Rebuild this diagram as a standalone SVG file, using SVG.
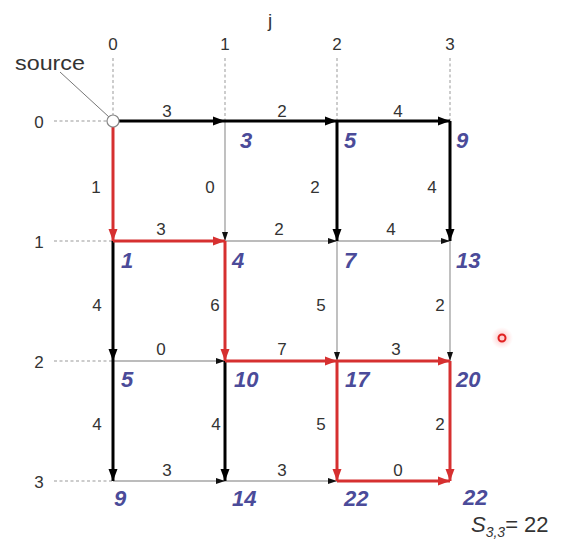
<svg xmlns="http://www.w3.org/2000/svg" width="564" height="540" viewBox="0 0 564 540">
<style>
text{font-family:"Liberation Sans",Arial,sans-serif}
.ax{font-size:17px;fill:#333;text-anchor:middle}
.w{font-size:17px;fill:#333;text-anchor:middle}
.v{font-size:22px;font-weight:bold;font-style:italic;fill:#4b4b99}
.guide{stroke:#999;stroke-width:1;stroke-dasharray:3,2.5;fill:none}
.thin{stroke:#a6a6a6;stroke-width:1.4;fill:none;marker-end:url(#ah-s)}
.blk{stroke:#000;stroke-width:3;fill:none;marker-end:url(#ah-k)}
.red{stroke:#d63030;stroke-width:3;fill:none;marker-end:url(#ah-r)}
</style>
<defs>
<marker id="ah-k" markerUnits="userSpaceOnUse" markerWidth="12" markerHeight="12" viewBox="0 0 12 12" refX="12" refY="6" orient="auto"><path d="M0,1.5 L12,6 L0,10.5 Z" fill="#000"/></marker>
<marker id="ah-r" markerUnits="userSpaceOnUse" markerWidth="12" markerHeight="12" viewBox="0 0 12 12" refX="12" refY="6" orient="auto"><path d="M0,1.5 L12,6 L0,10.5 Z" fill="#d63030"/></marker>
<marker id="ah-s" markerUnits="userSpaceOnUse" markerWidth="9" markerHeight="9" viewBox="0 0 9 9" refX="9" refY="4.5" orient="auto"><path d="M0,1.5 L9,4.5 L0,7.5 Z" fill="#111"/></marker>
<radialGradient id="glow"><stop offset="0" stop-color="#ff8080" stop-opacity="0.6"/><stop offset="1" stop-color="#ffb0b0" stop-opacity="0"/></radialGradient>
</defs>
<rect width="564" height="540" fill="#fff"/>

<g id="axes">
<text class="ax" x="270" y="27" style="font-size:19px">j</text>
<text class="ax" x="113" y="50">0</text>
<text class="ax" x="225" y="50">1</text>
<text class="ax" x="337" y="50">2</text>
<text class="ax" x="450" y="50">3</text>
<text class="ax" x="39" y="128">0</text>
<text class="ax" x="39" y="248">1</text>
<text class="ax" x="39" y="368">2</text>
<text class="ax" x="39" y="488">3</text>
<path class="guide" d="M113,58 V121 M225,58 V121 M337,58 V121 M450,58 V121 M54,121 H113 M54,241 H113 M54,361 H113 M54,481 H113"/>
<text x="15" y="70" style="font-size:21px;fill:#333" textLength="70" lengthAdjust="spacingAndGlyphs">source</text>
<line x1="60" y1="72" x2="109" y2="117" stroke="#777" stroke-width="1"/>
</g>

<g id="connectors">
<!-- thin gray -->
<line class="thin" x1="225" y1="241" x2="337" y2="241"/>
<line class="thin" x1="337" y1="241" x2="450" y2="241"/>
<line class="thin" x1="113" y1="361" x2="225" y2="361"/>
<line class="thin" x1="113" y1="481" x2="225" y2="481"/>
<line class="thin" x1="225" y1="481" x2="337" y2="481"/>
<line class="thin" x1="225" y1="121" x2="225" y2="241"/>
<line class="thin" x1="337" y1="241" x2="337" y2="361"/>
<line class="thin" x1="450" y1="241" x2="450" y2="361"/>
<!-- black -->
<line class="blk" x1="119" y1="121" x2="225" y2="121"/>
<line class="blk" x1="225" y1="121" x2="337" y2="121"/>
<line class="blk" x1="337" y1="121" x2="450" y2="121"/>
<line class="blk" x1="113" y1="241" x2="113" y2="361"/>
<line class="blk" x1="113" y1="361" x2="113" y2="481"/>
<line class="blk" x1="225" y1="361" x2="225" y2="481"/>
<line class="blk" x1="337" y1="121" x2="337" y2="241"/>
<line class="blk" x1="450" y1="121" x2="450" y2="241"/>
<!-- red -->
<line class="red" x1="113" y1="127" x2="113" y2="241"/>
<line class="red" x1="113" y1="241" x2="225" y2="241"/>
<line class="red" x1="225" y1="241" x2="225" y2="361"/>
<line class="red" x1="225" y1="361" x2="337" y2="361"/>
<line class="red" x1="337" y1="361" x2="450" y2="361"/>
<line class="red" x1="337" y1="361" x2="337" y2="481"/>
<line class="red" x1="450" y1="361" x2="450" y2="481"/>
<line class="red" x1="337" y1="481" x2="450" y2="481"/>
<!-- weights horizontal -->
<text class="w" x="167" y="117">3</text>
<text class="w" x="282" y="117">2</text>
<text class="w" x="398" y="117">4</text>
<text class="w" x="161" y="235">3</text>
<text class="w" x="279" y="235">2</text>
<text class="w" x="391" y="235">4</text>
<text class="w" x="161" y="355">0</text>
<text class="w" x="282" y="355">7</text>
<text class="w" x="396" y="355">3</text>
<text class="w" x="167" y="476">3</text>
<text class="w" x="282" y="476">3</text>
<text class="w" x="398" y="476">0</text>
<!-- weights vertical -->
<text class="w" x="96" y="193">1</text>
<text class="w" x="210" y="193">0</text>
<text class="w" x="315" y="193">2</text>
<text class="w" x="432" y="193">4</text>
<text class="w" x="97" y="311">4</text>
<text class="w" x="215" y="311">6</text>
<text class="w" x="321" y="311">5</text>
<text class="w" x="440" y="311">2</text>
<text class="w" x="97" y="430">4</text>
<text class="w" x="216" y="430">4</text>
<text class="w" x="321" y="430">5</text>
<text class="w" x="440" y="430">2</text>
</g>

<g id="n00"><circle cx="113" cy="121" r="6" fill="#fff" stroke="#888" stroke-width="1.2"/></g>
<g id="n01"><text class="v" x="240" y="148">3</text></g>
<g id="n02"><text class="v" x="344" y="148">5</text></g>
<g id="n03"><text class="v" x="456" y="148">9</text></g>
<g id="n10"><text class="v" x="121" y="268">1</text></g>
<g id="n11"><text class="v" x="232" y="268">4</text></g>
<g id="n12"><text class="v" x="344" y="268">7</text></g>
<g id="n13"><text class="v" x="456" y="268">13</text></g>
<g id="n20"><text class="v" x="121" y="387">5</text></g>
<g id="n21"><text class="v" x="234" y="387">10</text></g>
<g id="n22"><text class="v" x="345" y="387">17</text></g>
<g id="n23"><text class="v" x="456" y="387">20</text></g>
<g id="n30"><text class="v" x="114" y="506">9</text></g>
<g id="n31"><text class="v" x="232" y="506">14</text></g>
<g id="n32"><text class="v" x="344" y="506">22</text></g>
<g id="n33"><text class="v" x="463" y="505">22</text></g>

<g id="result">
<text x="471" y="532" style="font-size:22px;fill:#333"><tspan font-style="italic">S</tspan><tspan font-style="italic" font-size="14" dy="5">3,3</tspan><tspan dy="-5">= 22</tspan></text>
</g>

<g id="pointer">
<circle cx="502" cy="338" r="11" fill="url(#glow)"/>
<circle cx="502" cy="338" r="3.5" fill="#ffd0d0" stroke="#e02020" stroke-width="2"/>
</g>
</svg>
